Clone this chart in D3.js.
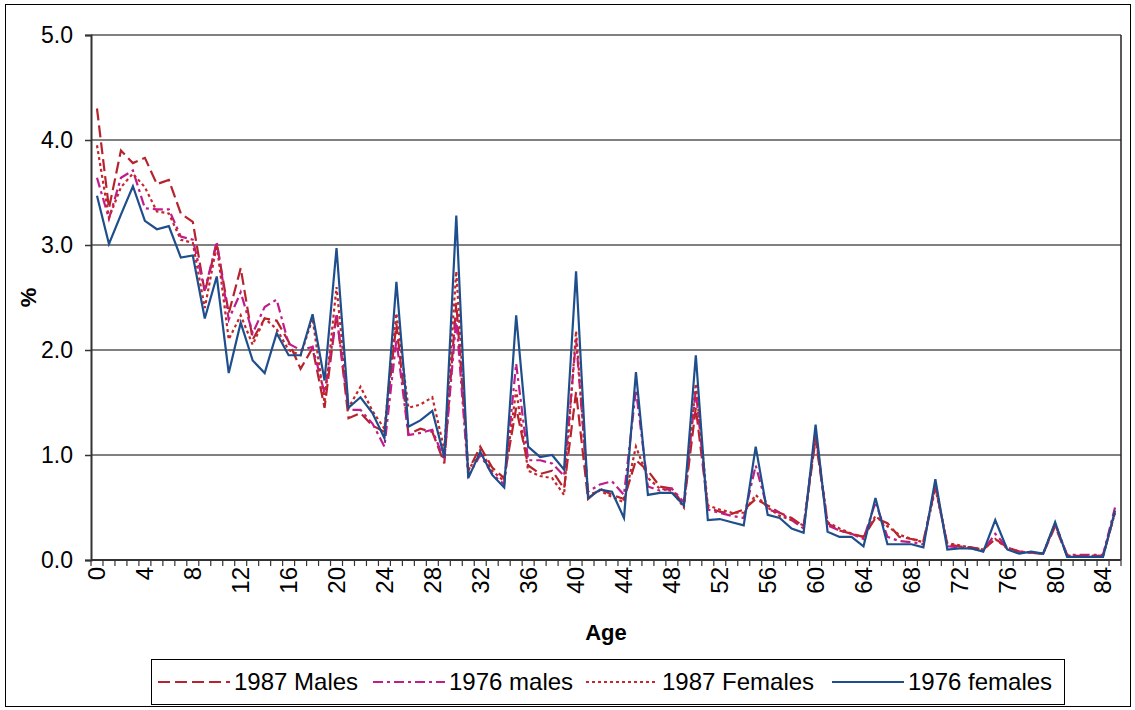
<!DOCTYPE html>
<html>
<head>
<meta charset="utf-8">
<script src="https://cdn.jsdelivr.net/npm/d3@7"></script>
<style>
  body { margin: 0; background: #fff; }
  svg { display: block; font-family: "Liberation Sans", Arial, sans-serif; }
</style>
</head>
<body>
<div id="chart"></div>
<script>
// ages 0..85
const ages = d3.range(0, 86);
const xTickLabels = [0, 4, 8, 12, 16, 20, 24, 28, 32, 36, 40, 44, 48, 52, 56, 60, 64, 68, 72, 76, 80, 84];
const yTicks = [0, 1, 2, 3, 4, 5];

const males1987 = [4.30,3.35,3.90,3.78,3.83,3.58,3.62,3.30,3.22,2.55,3.02,2.35,2.78,2.10,2.30,2.28,2.08,1.82,2.02,1.45,
  2.35,1.35,1.40,1.28,1.22,2.25,1.20,1.25,1.22,0.92,2.45,0.85,1.08,0.88,0.78,1.45,0.90,0.82,0.85,0.68,
  1.60,0.58,0.68,0.62,0.58,0.95,0.85,0.70,0.68,0.52,1.45,0.50,0.46,0.44,0.48,0.58,0.52,0.45,0.40,0.32,
  1.15,0.35,0.28,0.25,0.22,0.40,0.35,0.22,0.20,0.18,0.70,0.15,0.13,0.12,0.10,0.20,0.12,0.08,0.07,0.06,
  0.32,0.04,0.04,0.04,0.04,0.45];
const males1976 = [3.64,3.25,3.64,3.71,3.35,3.34,3.34,3.08,3.05,2.57,3.03,2.29,2.55,2.16,2.41,2.48,2.06,2.00,2.03,1.59,
  2.33,1.43,1.43,1.30,1.08,2.10,1.19,1.21,1.24,0.95,2.30,0.80,1.00,0.82,0.72,1.87,0.95,0.95,0.92,0.80,
  2.10,0.65,0.72,0.75,0.62,1.62,0.70,0.66,0.68,0.55,1.62,0.48,0.45,0.42,0.40,0.90,0.48,0.45,0.38,0.30,
  1.22,0.33,0.28,0.25,0.20,0.55,0.22,0.18,0.17,0.15,0.72,0.13,0.12,0.11,0.09,0.25,0.12,0.08,0.07,0.06,
  0.34,0.05,0.05,0.05,0.05,0.50];
const females1987 = [3.95,3.26,3.55,3.68,3.55,3.32,3.30,3.05,3.02,2.40,3.00,2.10,2.33,2.05,2.30,2.20,2.00,1.95,2.30,1.50,
  2.60,1.45,1.65,1.42,1.25,2.35,1.45,1.48,1.55,1.05,2.75,0.85,1.05,0.85,0.75,1.62,0.85,0.80,0.78,0.62,
  2.18,0.62,0.66,0.60,0.55,1.08,0.78,0.68,0.66,0.50,1.68,0.52,0.48,0.45,0.45,0.62,0.50,0.42,0.38,0.33,
  1.18,0.36,0.30,0.25,0.22,0.42,0.32,0.24,0.20,0.17,0.68,0.16,0.14,0.12,0.10,0.20,0.11,0.08,0.07,0.06,
  0.35,0.04,0.04,0.04,0.04,0.45];
const females1976 = [3.47,3.01,3.29,3.56,3.23,3.15,3.18,2.88,2.90,2.30,2.70,1.78,2.26,1.90,1.78,2.16,1.95,1.95,2.34,1.71,
  2.97,1.45,1.55,1.40,1.16,2.65,1.27,1.33,1.42,0.98,3.28,0.78,1.03,0.81,0.69,2.33,1.08,0.98,1.00,0.86,
  2.75,0.59,0.67,0.65,0.40,1.79,0.62,0.64,0.64,0.52,1.95,0.38,0.39,0.36,0.33,1.08,0.43,0.40,0.30,0.26,
  1.29,0.27,0.22,0.22,0.13,0.59,0.15,0.15,0.15,0.12,0.77,0.10,0.11,0.11,0.08,0.38,0.10,0.06,0.08,0.06,
  0.36,0.03,0.03,0.03,0.03,0.47];

const series = [
  { name: '1987 Males',   values: males1987,   color: '#b5242c', dash: '12,5' },
  { name: '1976 males',   values: males1976,   color: '#c01c8a', dash: '10,4,3,4' },
  { name: '1987 Females', values: females1987, color: '#c4262c', dash: '3,3' },
  { name: '1976 females', values: females1976, color: '#1f4e8c', dash: null }
];

const width = 1135, height = 710;
const plot = { left: 91, right: 1121, top: 35, bottom: 560 };

const svg = d3.select('#chart').append('svg')
  .attr('width', width)
  .attr('height', height);

// outer chart border
svg.append('rect')
  .attr('x', 5.5).attr('y', 4.5)
  .attr('width', 1125).attr('height', 702)
  .attr('fill', 'none').attr('stroke', '#000').attr('stroke-width', 1);

const xBand = d3.scaleBand().domain(ages).range([plot.left, plot.right]);
const x = d3.scalePoint().domain(ages).range([plot.left, plot.right]).padding(0.5);
const y = d3.scaleLinear().domain([0, 5]).range([plot.bottom, plot.top]);

// gridlines
svg.append('g').selectAll('line')
  .data(yTicks.filter(d => d > 0))
  .enter().append('line')
  .attr('x1', plot.left).attr('x2', plot.right)
  .attr('y1', d => y(d)).attr('y2', d => y(d))
  .attr('stroke', '#808080').attr('stroke-width', 2);

// right border of plot area
svg.append('line')
  .attr('x1', plot.right).attr('x2', plot.right)
  .attr('y1', plot.top).attr('y2', plot.bottom)
  .attr('stroke', '#222').attr('stroke-width', 1.5);

// y axis
const yAxis = svg.append('g')
  .attr('transform', 'translate(' + plot.left + ',0)')
  .call(d3.axisLeft(y).tickValues(yTicks).tickFormat(d3.format('.1f')).tickSize(6).tickPadding(12));
yAxis.select('.domain').attr('stroke', '#333').attr('stroke-width', 2);
yAxis.selectAll('.tick line').attr('stroke', '#333').attr('stroke-width', 1.5);
yAxis.selectAll('.tick text')
  .attr('font-size', 23).attr('fill', '#000')
  .attr('font-family', '"Liberation Sans", Arial, sans-serif');

// x axis line + ticks at category boundaries
svg.append('line')
  .attr('x1', plot.left).attr('x2', plot.right)
  .attr('y1', plot.bottom).attr('y2', plot.bottom)
  .attr('stroke', '#333').attr('stroke-width', 2);
const boundaries = ages.map(a => xBand(a)).concat([plot.right]);
svg.append('g').selectAll('line')
  .data(boundaries)
  .enter().append('line')
  .attr('x1', d => d).attr('x2', d => d)
  .attr('y1', plot.bottom).attr('y2', plot.bottom + 6)
  .attr('stroke', '#333').attr('stroke-width', 1.2);

// x tick labels (rotated)
svg.append('g').selectAll('text')
  .data(xTickLabels)
  .enter().append('text')
  .attr('transform', d => 'translate(' + x(d) + ',' + (plot.bottom + 7) + ') rotate(-90)')
  .attr('text-anchor', 'end')
  .attr('dy', '0.35em')
  .attr('font-size', 24)
  .text(d => d);

// axis titles
svg.append('text')
  .attr('transform', 'translate(28,' + ((plot.top + plot.bottom) / 2) + ') rotate(-90)')
  .attr('text-anchor', 'middle')
  .attr('dy', '0.35em')
  .attr('font-size', 22).attr('font-weight', 'bold')
  .text('%');
svg.append('text')
  .attr('x', (plot.left + plot.right) / 2)
  .attr('y', 640)
  .attr('text-anchor', 'middle')
  .attr('font-size', 22).attr('font-weight', 'bold')
  .text('Age');

// lines
const line = d3.line()
  .x((d, i) => x(ages[i]))
  .y(d => y(d));

svg.append('g').selectAll('path')
  .data(series)
  .enter().append('path')
  .attr('d', d => line(d.values))
  .attr('fill', 'none')
  .attr('stroke', d => d.color)
  .attr('stroke-width', 2.2)
  .attr('stroke-dasharray', d => d.dash)
  .attr('stroke-linejoin', 'miter');

// legend
const legend = svg.append('g');
legend.append('rect')
  .attr('x', 151.5).attr('y', 659.5)
  .attr('width', 913).attr('height', 45)
  .attr('fill', '#fff').attr('stroke', '#000').attr('stroke-width', 1);
const legendX = [158, 373, 586, 832];
const item = legend.selectAll('g.item')
  .data(series)
  .enter().append('g')
  .attr('class', 'item')
  .attr('transform', (d, i) => 'translate(' + legendX[i] + ',682)');
item.append('line')
  .attr('x1', 0).attr('x2', 72)
  .attr('stroke', d => d.color)
  .attr('stroke-width', 2.2)
  .attr('stroke-dasharray', d => d.dash);
item.append('text')
  .attr('x', 76)
  .attr('dy', '0.35em')
  .attr('font-size', 24)
  .text(d => d.name);
</script>
</body>
</html>
